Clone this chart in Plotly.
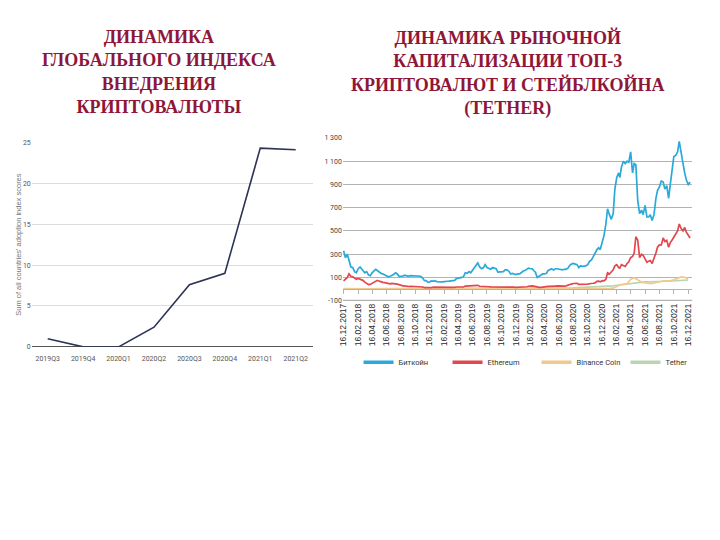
import plotly.graph_objects as go
import pandas as pd

# ---- left chart: global crypto adoption index ----
quarters = ["2019Q3", "2019Q4", "2020Q1", "2020Q2", "2020Q3", "2020Q4", "2021Q1", "2021Q2"]
adoption = [1.0, 0.0, 0.0, 2.4, 7.6, 9.0, 24.3, 24.1]

# ---- right chart: market cap, bn USD ----
# BTC / ETH sampled on days 1, 8, 16, 24 of each month (from 16.12.2017)
btc = [
    330, 270,
    300, 250, 190, 185, 150, 140, 175, 190, 180, 160, 140, 150, 120, 115, 140, 160,
    170, 160, 145, 135, 130, 120, 110, 105, 110, 115, 125, 140, 130, 110, 110, 112,
    120, 112, 110, 115, 114, 112, 112, 110, 110, 110, 95, 72, 72, 60, 62, 70,
    68, 70, 64, 62, 61, 62, 64, 70, 67, 68, 70, 70, 75, 90, 92, 95,
    100, 105, 140, 135, 150, 140, 160, 190, 200, 225, 190, 175, 185, 210, 185, 180,
    170, 185, 180, 175, 145, 148, 145, 150, 165, 165, 155, 130, 135, 130, 125, 130,
    130, 140, 155, 160, 170, 180, 175, 175, 160, 145, 100, 110, 115, 130, 130, 135,
    160, 165, 175, 165, 175, 175, 170, 170, 165, 170, 170, 180, 205, 215, 220, 215,
    210, 185, 200, 195, 195, 200, 210, 240, 250, 280, 300, 340, 355, 340, 400, 460,
    560, 690, 640, 600, 650, 860, 960, 1000, 960, 1050, 1100, 1080, 1100, 1090, 1180, 1000,
    1080, 1070, 760, 650, 680, 640, 720, 620, 620, 640, 590, 640, 780, 850, 880, 930,
    920, 860, 890, 780, 900, 1020, 1140, 1150, 1180, 1270, 1160, 1080, 1000, 940, 900, 920,
]
eth = [
    70, 85,
    100, 130, 110, 105, 90, 85, 92, 85, 85, 75, 60, 52, 38, 40, 48, 62,
    70, 75, 68, 60, 58, 55, 50, 45, 45, 48, 48, 47, 42, 38, 30, 28,
    28, 22, 22, 24, 23, 23, 21, 20, 20, 21, 18, 12, 11, 9, 9, 12,
    16, 16, 13, 12, 11, 13, 14, 15, 14, 14, 14, 14, 15, 18, 17, 17,
    17, 18, 26, 26, 28, 27, 29, 32, 32, 32, 24, 22, 23, 23, 20, 20,
    19, 19, 21, 18, 18, 20, 19, 19, 20, 20, 19, 16, 16, 16, 14, 14,
    14, 16, 18, 18, 20, 24, 28, 28, 25, 22, 12, 15, 15, 18, 19, 20,
    23, 23, 22, 22, 26, 27, 25, 25, 26, 26, 27, 34, 42, 43, 48, 46,
    50, 40, 40, 39, 40, 41, 42, 46, 46, 50, 53, 66, 68, 62, 72, 70,
    85, 140, 130, 150, 165, 200, 210, 185, 180, 210, 205, 195, 220, 235, 270, 280,
    310, 450, 420, 270, 300, 290, 260, 230, 240, 245, 220, 260, 310, 360, 380, 380,
    440, 410, 420, 360, 400, 420, 450, 480, 500, 560, 520, 500, 530, 490, 470, 440,
]
# BNB / USDT sampled on days 1 and 16 of each month (from 16.12.2017)
bnb = [
    3,
    1.0, 2.5, 1.0, 1.3, 1.2, 1.2, 0.9, 1.3, 1.6, 1.5, 1.6, 1.6,
    1.5, 1.5, 1.5, 1.2, 1.1, 1.1, 1.1, 1.1, 1.1, 1.0, 0.7, 0.6,
    0.8, 0.9, 1.0, 1.3, 1.7, 2.0, 2.5, 2.8, 2.5, 3.0, 4.4, 5.0,
    4.7, 4.5, 4.3, 4.0, 3.4, 3.2, 2.8, 2.6, 3.0, 2.8, 2.4, 2.1,
    2.2, 2.6, 3.0, 3.7, 3.2, 1.9, 2.0, 2.3, 2.5, 2.5, 2.6, 2.6,
    2.4, 2.6, 3.0, 3.3, 3.7, 4.0, 4.3, 4.5, 4.0, 4.5, 4.5, 5.0,
    5.5, 6.5, 7.5, 20, 35, 40, 46, 85, 95, 80, 58, 55,
    48, 48, 55, 65, 70, 70, 70, 80, 95, 105, 100, 90,
]
usdt = [
    1.2,
    1.3, 1.6, 2.2, 2.2, 2.3, 2.3, 2.3, 2.3, 2.4, 2.5, 2.6, 2.6,
    2.7, 2.7, 2.7, 2.8, 2.8, 2.8, 2.6, 2.3, 1.9, 1.8, 1.8, 1.9,
    2.0, 2.0, 2.0, 2.0, 2.0, 2.1, 2.6, 2.9, 3.0, 3.2, 3.4, 3.6,
    4.0, 4.0, 4.0, 4.0, 4.1, 4.1, 4.1, 4.1, 4.1, 4.1, 4.1, 4.1,
    4.1, 4.6, 4.6, 4.7, 4.7, 5.5, 6.5, 7.0, 8.0, 9.0, 9.2, 9.5,
    9.5, 10.0, 10.3, 11.0, 13.0, 14.5, 15.5, 16.0, 16.0, 17.5, 19.0, 20.0,
    21, 24, 27, 33, 36, 40, 42, 46, 50, 58, 62, 62,
    62, 62, 63, 65, 67, 69, 69, 70, 72, 74, 76, 78,
]

months = pd.date_range("2017-12-01", "2021-12-01", freq="MS")
start = pd.Timestamp("2017-12-16")
dates_w = [m + pd.Timedelta(days=d - 1) for m in months for d in (1, 8, 16, 24)]
dates_w = [d for d in dates_w if d >= start]
dates_h = [m + pd.Timedelta(days=d - 1) for m in months for d in (1, 16)]
dates_h = [d for d in dates_h if d >= start]

# x tick labels every two months, 16.12.2017 ... 16.12.2021
tick_dates = [m + pd.Timedelta(days=15) for m in months if m.month % 2 == 0]
tick_text = [d.strftime("%d.%m.%Y") for d in tick_dates]

y_ticks = [-100, 100, 300, 500, 700, 900, 1100, 1300]
y_text = ["-100", "100", "300", "500", "700", "900", "1 100", "1 300"]

W, H = 720, 540
def px_x(x): return x / W
def px_y(y): return 1 - y / H

TITLE = "#8e1739"
NARROW = "Liberation Sans Narrow, Arial Narrow, Roboto, sans-serif"

fig = go.Figure()

# left line
fig.add_trace(go.Scatter(
    x=quarters, y=adoption, mode="lines",
    line=dict(color="#2d3355", width=1.6),
    xaxis="x", yaxis="y", showlegend=False,
))

# right series (drawn back to front, bitcoin on top)
series = [
    ("Биткойн", dates_w, btc, "#2aa9da"),
    ("Ethereum", dates_w, eth, "#e2474f"),
    ("Binance Coin", dates_h, bnb, "#f2c98c"),
    ("Tether", dates_h, usdt, "#b9d5b3"),
]
for name, xs, ys, col in reversed(series):
    fig.add_trace(go.Scatter(
        x=xs, y=ys, mode="lines", name=name,
        line=dict(color=col, width=1.7),
        xaxis="x2", yaxis="y2", showlegend=False,
    ))
# legend samples with thicker strokes
for name, xs, ys, col in series:
    fig.add_trace(go.Scatter(
        x=[None], y=[None], mode="lines", name=name,
        line=dict(color=col, width=3.5),
        xaxis="x2", yaxis="y2", showlegend=True, hoverinfo="skip",
    ))
# dummy trace on x3 so the free zero-axis renders
fig.add_trace(go.Scatter(x=[tick_dates[0]], y=[None], xaxis="x3", yaxis="y2",
                         showlegend=False, hoverinfo="skip"))

fig.update_layout(
    width=W, height=H,
    margin=dict(l=0, r=0, t=0, b=0),
    paper_bgcolor="white", plot_bgcolor="rgba(0,0,0,0)",
    font=dict(family=NARROW, color="#444"),
    xaxis=dict(
        domain=[px_x(27), px_x(311)], range=[-0.45, 7.5], anchor="y",
        showgrid=False, showline=False, ticks="",
        tickfont=dict(size=7, color="#555"), ticklabelstandoff=6,
    ),
    yaxis=dict(
        domain=[px_y(348), px_y(140.5)], range=[0, 25], anchor="x",
        tickvals=[0, 5, 10, 15, 20, 25], showgrid=True,
        gridcolor="#dcdcdc", gridwidth=1, zeroline=True,
        zerolinecolor="#555", zerolinewidth=1.2,
        tickfont=dict(size=7, color="#555"), ticks="",
        title=dict(text="Sum of all countries' adoption index scores",
                   font=dict(size=7.5, color="#777", family="Liberation Sans, Arial"), standoff=0),
    ),
    xaxis2=dict(
        domain=[px_x(340.7), px_x(693)], range=["2017-12-13", "2022-01-02"], anchor="y2",
        tickvals=tick_dates, ticktext=tick_text, tickangle=-90,
        tickfont=dict(size=8.5, color="#2a2a2a", family="Liberation Sans, Arial"),
        showgrid=False, showline=False, ticks="",
    ),
    yaxis2=dict(
        domain=[px_y(301.5), px_y(136)], range=[-103, 1300], anchor="x2",
        tickvals=y_ticks, ticktext=y_text, showgrid=True,
        gridcolor="#b3b3b3", gridwidth=1.4, zeroline=False,
        tickfont=dict(size=7, color="#444"), ticks="",
    ),
    xaxis3=dict(
        domain=[px_x(340.7), px_x(693)], range=["2017-12-13", "2022-01-02"],
        overlaying="x2", anchor="free", position=px_y(289),
        tickvals=tick_dates, showticklabels=False,
        showline=True, linecolor="#b3b3b3", linewidth=1.2,
        ticks="outside", ticklen=4, tickcolor="#b3b3b3", showgrid=False,
    ),
    legend=dict(
        orientation="h", x=px_x(536), xanchor="center", y=px_y(349), yanchor="top",
        font=dict(size=7.5, color="#333", family=NARROW),
        itemwidth=30, entrywidth=44,
        bgcolor="rgba(0,0,0,0)",
    ),
)

# heavier baseline gridline at -100
fig.add_shape(type="line", xref="x2 domain", yref="y2", x0=0, x1=1, y0=-100, y1=-100,
              line=dict(color="#b3b3b3", width=2), layer="below")

fig.add_annotation(
    text="<b>ДИНАМИКА<br>ГЛОБАЛЬНОГО ИНДЕКСА<br>ВНЕДРЕНИЯ<br>КРИПТОВАЛЮТЫ</b>",
    xref="paper", yref="paper", x=px_x(155), y=px_y(21), xanchor="center", yanchor="top",
    showarrow=False, align="center",
    font=dict(family="Liberation Serif, Times New Roman, serif", size=18, color=TITLE),
)
fig.add_annotation(
    text="<b>ДИНАМИКА РЫНОЧНОЙ<br>КАПИТАЛИЗАЦИИ ТОП-3<br>КРИПТОВАЛЮТ И СТЕЙБЛКОЙНА<br>(TETHER)</b>",
    xref="paper", yref="paper", x=px_x(507), y=px_y(21), xanchor="center", yanchor="top",
    showarrow=False, align="center",
    font=dict(family="Liberation Serif, Times New Roman, serif", size=18, color=TITLE),
)

# remove the browser's default body margin so the 720x540 figure fills the window
fig.write_html("out.html", config={"displayModeBar": False},
               post_script="document.body.style.margin='0';")
